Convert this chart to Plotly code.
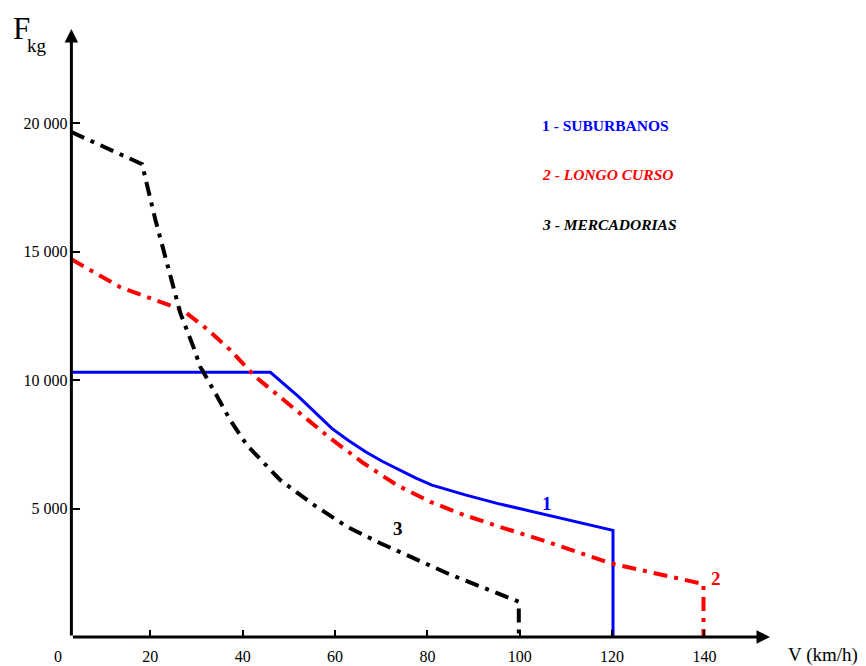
import plotly.graph_objects as go

# ---- data ----
sub_v = [2.9, 46.0, 52.1, 59.3, 62.9, 66.6, 70.2, 73.8, 77.4, 81.0, 84.6, 88.2, 95.1, 105.9, 120.2, 120.2]
sub_f = [10300, 10300, 9350, 8120, 7650, 7210, 6840, 6500, 6190, 5910, 5710, 5530, 5200, 4750, 4150, 0]

lon_v = [2.9, 13.5, 27.0, 32.3, 37.3, 42.4, 44.5, 51.8, 59.0, 66.2, 73.4, 80.6, 87.9, 95.1, 105.9, 119.6, 139.8, 139.8]
lon_f = [14700, 13610, 12720, 11980, 11170, 10190, 9870, 8770, 7730, 6760, 5910, 5260, 4750, 4320, 3710, 2870, 2060, 0]

mer_v = [2.9, 18.2, 21.1, 22.9, 25.0, 26.5, 29.4, 30.8, 33.7, 37.3, 40.9, 48.1, 55.4, 62.6, 69.8, 77.0, 84.3, 99.8, 99.8]
mer_f = [19650, 18400, 16230, 14990, 13550, 12600, 11250, 10520, 9610, 8440, 7470, 6110, 5140, 4290, 3650, 3060, 2480, 1370, 0]

x_ticks = [0, 20, 40, 60, 80, 100, 120, 140]
x_marks = [20, 40, 60, 80, 100, 120, 140]
y_ticks = [5000, 10000, 15000, 20000]

legend_items = ["1 - SUBURBANOS", "2 - LONGO CURSO", "3 - MERCADORIAS"]
curve_labels = ["1", "2", "3"]

X_MAX = 154.2
Y_MAX = 23660
AXIS_X = 2.9

FONT = "Liberation Serif, Times New Roman, serif"
BLUE = "#0000FF"
RED = "#FF0000"
BLACK = "#000000"
DASHDOT = "14px,7px,4px,7px"

# page body has an 8px margin: lay out in reference pixels, then shift
OFF = 8
W, H = 866 - OFF, 666 - OFF
ML, MT = 58 - OFF, 29 - OFF
PR, PB = 770 - OFF, 637 - OFF          # plot right / bottom edge in figure px
MR, MB = W - PR, H - PB
PW, PH = PR - ML, PB - MT

fig = go.Figure()
fig.add_trace(go.Scatter(x=sub_v, y=sub_f, mode="lines",
                         line=dict(color=BLUE, width=3), xaxis="x", yaxis="y"))
fig.add_trace(go.Scatter(x=lon_v, y=lon_f, mode="lines",
                         line=dict(color=RED, width=4, dash=DASHDOT), xaxis="x", yaxis="y"))
fig.add_trace(go.Scatter(x=mer_v, y=mer_f, mode="lines",
                         line=dict(color=BLACK, width=4, dash=DASHDOT), xaxis="x", yaxis="y"))
# invisible trace on second x axis that carries the tick marks
fig.add_trace(go.Scatter(x=[x_marks[0]], y=[y_ticks[0]], mode="markers",
                         marker=dict(opacity=0), xaxis="x2", yaxis="y", hoverinfo="skip"))

annotations = []
# axes with arrows
annotations.append(dict(x=AXIS_X, y=Y_MAX, ax=AXIS_X, ay=0, xref="x", yref="y",
                        axref="x", ayref="y", text="", showarrow=True,
                        arrowhead=2, arrowwidth=3, arrowsize=0.9, arrowcolor=BLACK))
annotations.append(dict(x=X_MAX, y=0, ax=AXIS_X, ay=0, xref="x", yref="y",
                        axref="x", ayref="y", text="", showarrow=True,
                        arrowhead=2, arrowwidth=3, arrowsize=0.9, arrowcolor=BLACK))

# pixel-placed texts (reference pixel coords)
px_texts = [
    dict(px=11, py=9, text="F", size=31, color=BLACK, xa="left", ya="top"),
    dict(px=25, py=33, text="kg", size=19, color=BLACK, xa="left", ya="top"),
    dict(px=786, py=642, text="V (km/h)", size=19, color=BLACK, xa="left", ya="top"),
]
leg_colors = [BLUE, RED, BLACK]
leg_y = [125, 174, 224]
leg_fmt = ["<b>{}</b>", "<b><i>{}</i></b>", "<b><i>{}</i></b>"]
for txt, col, yy, fm in zip(legend_items, leg_colors, leg_y, leg_fmt):
    px_texts.append(dict(px=540, py=yy, text=fm.format(txt), size=15.5, color=col,
                         xa="left", ya="middle"))

for t in px_texts:
    annotations.append(dict(
        x=(t["px"] - OFF - ML) / PW, y=1 - (t["py"] - OFF - MT) / PH,
        xref="paper", yref="paper", text=t["text"], showarrow=False,
        font=dict(family=FONT, size=t["size"], color=t["color"]),
        xanchor=t["xa"], yanchor=t["ya"]))

# curve labels
lab_pos = [(106.0, 5214, BLUE), (142.6, 2296, RED), (73.7, 4241, BLACK)]
for t, (lx, ly, c) in zip(curve_labels, lab_pos):
    annotations.append(dict(x=lx, y=ly, xref="x", yref="y", text="<b>" + t + "</b>",
                            showarrow=False, font=dict(family=FONT, size=19, color=c)))

fig.update_layout(
    width=W, height=H,
    margin=dict(l=ML, r=MR, t=MT, b=MB, pad=0, autoexpand=False),
    paper_bgcolor="white", plot_bgcolor="white",
    showlegend=False,
    separators=", ",
    font=dict(family=FONT, size=16, color=BLACK),
    xaxis=dict(range=[0, X_MAX], tickvals=x_ticks, showgrid=False, zeroline=False,
               showline=False, ticks="", ticklabelstandoff=8, automargin=False,
               tickfont=dict(family=FONT, size=16, color=BLACK)),
    xaxis2=dict(range=[0, X_MAX], overlaying="x", anchor="y", side="bottom",
                tickvals=x_marks, ticks="inside", ticklen=7, tickwidth=2, tickcolor=BLACK,
                showticklabels=False, showgrid=False, zeroline=False, showline=False,
                automargin=False),
    yaxis=dict(range=[0, Y_MAX], tickvals=y_ticks, tickformat=",d", showgrid=False,
               zeroline=False, showline=False, ticks="inside", ticklen=8, tickwidth=2,
               tickcolor=BLACK, anchor="free", position=AXIS_X / X_MAX,
               ticklabelstandoff=4, automargin=False,
               tickfont=dict(family=FONT, size=16, color=BLACK)),
    annotations=annotations,
)

fig.write_html("out.html")
